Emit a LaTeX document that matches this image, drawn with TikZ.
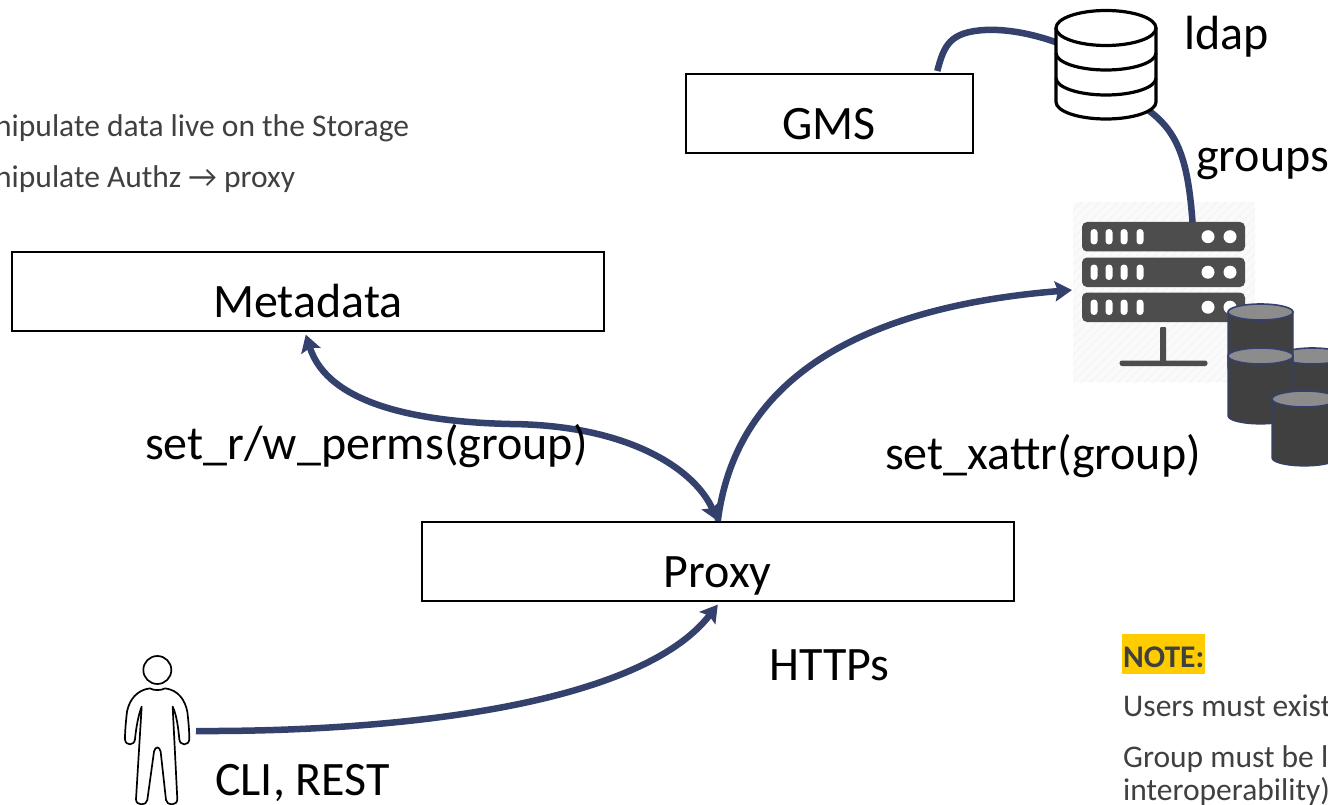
\documentclass[tikz,border=0pt]{standalone}
\usepackage{fontspec}
\setmainfont{Carlito}
\usetikzlibrary{arrows.meta}
\definecolor{conn}{HTML}{35416D}
\definecolor{rack}{HTML}{4D4D4D}
\definecolor{cyl}{HTML}{404040}
\definecolor{cyltop}{HTML}{8C8C8C}
\definecolor{hatch}{HTML}{F4F4F4}
\definecolor{note}{HTML}{FFCC00}
\definecolor{bodytext}{HTML}{404040}
\tikzset{
  x=1pt,y=-1pt,
  boxnode/.style={draw=black,line width=1.6pt,fill=white,inner sep=0pt,anchor=north west,text height=53pt,text depth=0pt,font=\fontsize{48}{48}\selectfont},
  label/.style={inner sep=0pt,anchor=base west,text=black,font=\fontsize{48}{48}\selectfont},
  small/.style={inner sep=0pt,anchor=base west,text=bodytext,font=\fontsize{31.5}{31.5}\selectfont},
  iconnode/.style={inner sep=0pt,outer sep=0pt,anchor=north west},
  link/.style={draw=conn,line width=6.5pt},
  tip/.style={-{Stealth[length=17pt,width=20pt,inset=3pt]}},
  both/.style={{Stealth[length=17pt,width=20pt,inset=3pt]}-{Stealth[length=17pt,width=20pt,inset=3pt]}},
  icon/.style={draw=black,line width=3.2pt,line join=round},
  pill/.style={fill=white,rounded corners=3.4pt},
}
\newcommand{\rackunit}[1]{%
  \fill[rack,rounded corners=5pt] (1082,#1) rectangle (1245,#1+29.5);
  \foreach \px in {1094,1109,1124,1140}
    \fill[pill] (\px-3.5,#1+7) rectangle (\px+3.5,#1+22.5);
  \fill[white] (1208,#1+14.7) circle (6.5);
  \fill[white] (1230,#1+14.7) circle (6.5);
}
\newcommand{\drum}[3]{%
  \fill[cyl,draw=conn,line width=1.2pt] (#1,#2) -- (#1,#3) arc[start angle=180,end angle=360,x radius=32.5,y radius=-8] -- (#1+65,#2) -- cycle;
  \fill[cyltop,draw=conn,line width=1.6pt] (#1+32.5,#2) ellipse[x radius=32.5,y radius=8];
}
\begin{document}
\begin{tikzpicture}
\useasboundingbox (0,0) rectangle (1328,805);
\clip (0,0) rectangle (1328,805);
\fill[white] (0,0) rectangle (1328,805);

% server background hatch
\fill[hatch!45] (1073,202) rectangle (1255,382);
\begin{scope}
  \clip (1073,202) rectangle (1255,382);
  \foreach \d in {0,9,...,370}
    \draw[hatch,line width=1.2pt] (1073+\d,202) -- (1073+\d-190,392);
\end{scope}

% named icon frames
\node[iconnode,minimum width=100pt,minimum height=109pt] (ldap) at (1056,10) {};
\node[iconnode,minimum width=163pt,minimum height=100pt] (server) at (1082,222) {};
\node[iconnode,minimum width=77pt,minimum height=148pt] (user) at (119,657) {};

% boxes
\node[boxnode,minimum width=592pt,minimum height=79pt] (metadata) at (11,251) {Metadata};
\node[boxnode,minimum width=287pt,minimum height=79pt] (gms) at (685,73) {GMS};
\node[boxnode,minimum width=592pt,minimum height=79pt] (proxy) at (421,521) {Proxy};

% server racks
\rackunit{222}
\rackunit{257.5}
\rackunit{292.5}
\fill[rack,rounded corners=1pt] (1160,327) rectangle (1166,362);
\fill[rack,rounded corners=2.5pt] (1119.5,360.5) rectangle (1207.5,366);

% drums
\drum{1280}{356}{412}
\drum{1228}{312}{368}
\drum{1228}{356}{416}
\drum{1272}{399}{458}

% connectors
\draw[link,both] ([shift={(-2,3)}]metadata.south) .. controls (328,405) and (420,422) .. (510,424)
   .. controls (630,425) and (695,470) .. (proxy.north);
\draw[link,tip] (proxy.north) .. controls (735,385) and (850,308) .. ([shift={(-10,18)}]server.west);
\draw[link,tip] (user.east) .. controls (400,732) and (640,705) .. ([shift={(0,3)}]proxy.south);
\draw[link] ([shift={(108,-2)}]gms.north) .. controls (944,45) and (950,32) .. (985,30)
   .. controls (1005,29) and (1030,33) .. (ldap.156);
\draw[link] ([shift={(-8,-9)}]ldap.south east) .. controls (1178,132) and (1188,160) .. ([shift={(29,0)}]server.north);

% ldap cylinder icon
\fill[white] (1056,28) -- (1056,102) arc[start angle=180,end angle=360,x radius=50,y radius=-17] -- (1156,28) arc[start angle=0,end angle=180,x radius=50,y radius=-18] -- cycle;
\draw[icon] (1056,28) -- (1056,102) arc[start angle=180,end angle=360,x radius=50,y radius=-17] -- (1156,28);
\draw[icon] (1106,28) ellipse[x radius=50,y radius=17.5];
\draw[icon] (1056,53) arc[start angle=180,end angle=360,x radius=50,y radius=-17];
\draw[icon] (1056,78) arc[start angle=180,end angle=360,x radius=50,y radius=-17];

% user icon
\begin{scope}[shift={(100,640)},x=0.3333pt,y=-0.3333pt]
\draw[black,line width=1.7pt] (172,90) circle (42);
\draw[black,line width=1.7pt,line join=round,fill=white]
  (150,145) .. controls (160,152) and (184,152) .. (195,145)
  .. controls (235,150) and (255,180) .. (262,215)
  .. controls (266,250) and (268,275) .. (268,298)
  .. controls (266,318) and (240,318) .. (238,298)
  .. controls (235,265) and (230,225) .. (218,200)
  -- (232,478)
  .. controls (232,498) and (200,498) .. (198,480)
  -- (182,335)
  .. controls (178,318) and (166,318) .. (162,335)
  -- (142,480)
  .. controls (140,498) and (108,498) .. (108,478)
  -- (125,200)
  .. controls (115,225) and (108,265) .. (105,298)
  .. controls (103,318) and (76,318) .. (75,298)
  .. controls (75,275) and (77,250) .. (81,215)
  .. controls (88,180) and (110,150) .. (150,145) -- cycle;
\end{scope}

% labels
\node[label] (tldap) at (1184,50) {ldap};
\node[label] (tgroups) at (1196,172) {groups};
\node[label] (tperms) at (145,459) {set\_r/w\_perms(group)};
\node[label] (txattr) at (885,469) {set\_xattr(group)};
\node[label] (thttps) at (769,680) {HTTPs};
\node[label] (tcli) at (215,795) {CLI, REST};

% left notes
\node[small] (n1) at (-5,137) {nipulate data live on the Storage};
\node[small] (n2) at (-5,188) {nipulate Authz → proxy};

% note
\fill[note] (1122,634) rectangle (1205,674);
\node[small,font=\bfseries\fontsize{31.5}{31.5}\selectfont] (n3) at (1123,667) {NOTE:};
\node[small] (n4) at (1123,716) {Users must exist};
\node[small] (n5) at (1123,767) {Group must be l};
\node[small] (n6) at (1123,800) {interoperability)};
\end{tikzpicture}
\end{document}
